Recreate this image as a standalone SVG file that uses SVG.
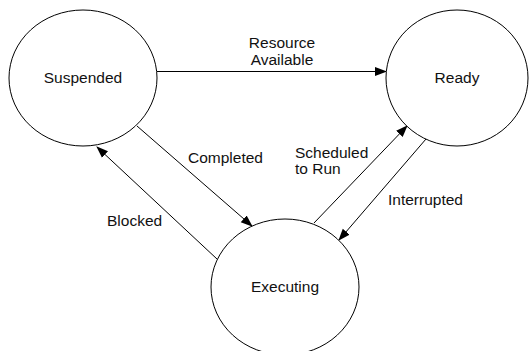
<svg xmlns="http://www.w3.org/2000/svg" width="530" height="351" viewBox="0 0 530 351">
  <defs>
    <marker id="arrow" markerWidth="12" markerHeight="10" refX="11" refY="5" orient="auto" markerUnits="userSpaceOnUse">
      <path d="M0,0.5 L12,5 L0,9.5 Z" fill="#000"/>
    </marker>
    <style>
      .state { fill: #fff; stroke: #000; stroke-width: 1; }
      .edge { fill: none; stroke: #000; stroke-width: 1; marker-end: url(#arrow); }
      text { font-family: "Liberation Sans", Arial, sans-serif; font-size: 15.5px; fill: #111; }
      .c { text-anchor: middle; }
    </style>
  </defs>
  <rect width="530" height="351" fill="#fff"/>

  <g id="connectors">
    <line class="edge" x1="157" y1="71.5" x2="386" y2="71.5"/>
    <line class="edge" x1="137" y1="126" x2="252" y2="226"/>
    <line class="edge" x1="217" y1="259" x2="97" y2="147"/>
    <line class="edge" x1="314" y1="223" x2="407" y2="126"/>
    <line class="edge" x1="426" y1="139" x2="339" y2="240"/>
    <text class="c" x="282" y="48">Resource</text>
    <text class="c" x="282" y="65">Available</text>
    <text x="188" y="163">Completed</text>
    <text x="107" y="226">Blocked</text>
    <text x="295" y="158">Scheduled</text>
    <text x="295" y="174">to Run</text>
    <text x="388" y="205">Interrupted</text>
  </g>

  <g id="suspended">
    <ellipse class="state" cx="83" cy="78" rx="74" ry="68"/>
    <text class="c" x="83" y="83">Suspended</text>
  </g>
  <g id="ready">
    <ellipse class="state" cx="457" cy="78" rx="71" ry="68"/>
    <text class="c" x="457" y="83">Ready</text>
  </g>
  <g id="executing">
    <ellipse class="state" cx="285" cy="287" rx="74" ry="68"/>
    <text class="c" x="285" y="292">Executing</text>
  </g>
</svg>
